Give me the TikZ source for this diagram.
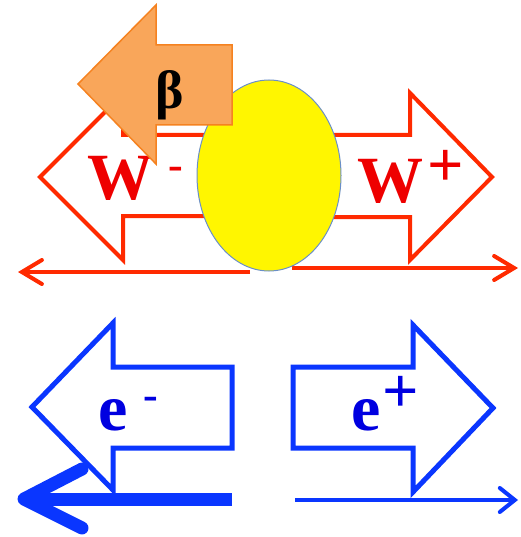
\documentclass[tikz,border=0pt]{standalone}
\usepackage{fontspec}
\setmainfont{Liberation Serif}
\usetikzlibrary{arrows.meta}
\definecolor{wred}{HTML}{FF2A00}
\definecolor{tred}{HTML}{EE0000}
\definecolor{eblue}{HTML}{0A36FF}
\definecolor{tblue}{HTML}{0000E0}
\definecolor{orfill}{HTML}{F9A65A}
\definecolor{ordraw}{HTML}{F58220}
\definecolor{ylw}{HTML}{FFF600}
\definecolor{elldraw}{HTML}{6A8FC8}
\tikzset{
  redarrow/.style={draw=wred, line width=4pt, fill=white, line join=miter},
  bluearrow/.style={draw=eblue, line width=5pt, fill=white, line join=miter},
  redline/.style={draw=wred, line width=4pt, -{Straight Barb[length=20pt, width=24pt, line cap=round]}},
  blueline/.style={draw=eblue, line width=4pt, -{Straight Barb[length=15pt, width=24pt, line cap=round]}},
  lbl/.style={inner sep=0pt, anchor=base, font=\fontsize{66}{66}\bfseries\selectfont},
  supm/.style={inner sep=0pt, anchor=base, font=\fontsize{44}{44}\bfseries\selectfont},
  supp/.style={inner sep=0pt, anchor=base, font=\fontsize{64}{64}\bfseries\selectfont},
}
\begin{document}
\begin{tikzpicture}[x=1pt,y=-1pt]
\useasboundingbox (0,0) rectangle (520,537);
% red W arrows
\draw[redarrow] (40,177) -- (123,94) -- (123,135) -- (262,135) -- (262,216) -- (123,216) -- (123,260) -- cycle;
\draw[redarrow] (492,177) -- (410,93) -- (410,135) -- (278,135) -- (278,217) -- (410,217) -- (410,260) -- cycle;
\node[lbl, text=tred] (wm) at (120,200) {W};
\node[supm, text=tred] (wmsup) at (176,180) {-};
\node[lbl, text=tred] (wp) at (390,203) {W};
\node[supp, text=tred] (wpsup) at (446,187) {+};
% red lines
\coordinate (rl1) at (250,272);
\coordinate (rl2) at (18,272);
\coordinate (rr1) at (292,268);
\coordinate (rr2) at (518,268);
\draw[redline] (rl1) -- (rl2);
\draw[redline] (rr1) -- (rr2);
% yellow ellipse
\draw[fill=ylw, draw=elldraw, line width=1pt] (269,175.5) ellipse [x radius=72, y radius=95.5];
% orange beta arrow
\draw[fill=orfill, draw=ordraw, line width=1.5pt] (78,84) -- (156,5) -- (156,45) -- (232,45) -- (232,125) -- (156,125) -- (156,164) -- cycle;
\node[inner sep=0pt, font=\fontsize{54}{54}\bfseries\selectfont] (beta) at (170,95) {β};
% blue e arrows
\draw[bluearrow] (32,407) -- (113,323) -- (113,367) -- (232,367) -- (232,448) -- (113,448) -- (113,490) -- cycle;
\draw[bluearrow] (493,408) -- (413,325) -- (413,367) -- (293,367) -- (293,448) -- (413,448) -- (413,492) -- cycle;
\node[lbl, text=tblue] (em) at (113.5,430) {e};
\node[supm, text=tblue] (emsup) at (151,409) {-};
\node[lbl, text=tblue] (ep) at (366,430) {e};
\node[supp, text=tblue] (epsup) at (401,412) {+};
% thick blue arrow
\coordinate (bt1) at (232,499);
\coordinate (btip) at (24,499);
\coordinate (bb1) at (82,469);
\coordinate (bb2) at (82,528);
\draw[eblue, line width=13pt] (bt1) -- (btip);
\draw[eblue, line width=13pt, line cap=round, line join=round] (bb1) -- (btip) -- (bb2);
% thin blue line
\coordinate (bl1) at (295,500);
\coordinate (bl2) at (518,500);
\draw[blueline] (bl1) -- (bl2);
\end{tikzpicture}
\end{document}
